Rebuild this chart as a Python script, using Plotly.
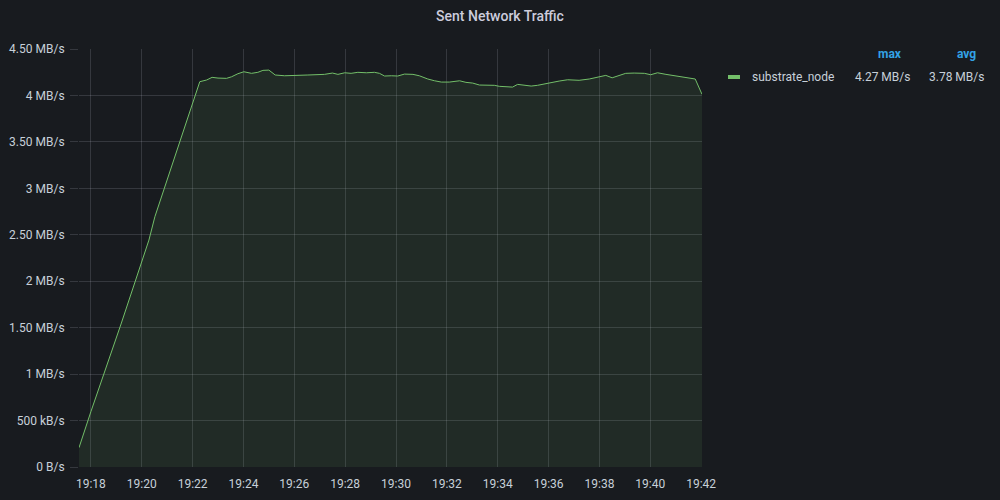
import plotly.graph_objects as go

# ---- data ----
times = [
    "19:17:32", "19:18:00", "19:19:12", "19:20:17", "19:20:31", "19:22:17", "19:22:33", "19:22:46",
    "19:23:00", "19:23:20", "19:23:32", "19:23:47", "19:24:01", "19:24:19", "19:24:34", "19:24:46",
    "19:25:00", "19:25:15", "19:25:37", "19:26:01", "19:26:32", "19:27:11", "19:27:30", "19:27:43",
    "19:27:59", "19:28:14", "19:28:30", "19:28:50", "19:29:09", "19:29:21", "19:29:33", "19:29:49",
    "19:30:04", "19:30:20", "19:30:40", "19:30:55", "19:31:15", "19:31:31", "19:31:47", "19:32:06",
    "19:32:30", "19:32:45", "19:33:01", "19:33:17", "19:33:36", "19:33:52", "19:34:04", "19:34:20",
    "19:34:35", "19:34:47", "19:35:03", "19:35:19", "19:35:34", "19:35:50", "19:36:06", "19:36:25",
    "19:36:45", "19:37:12", "19:37:36", "19:38:00", "19:38:15", "19:38:30", "19:38:47", "19:39:02",
    "19:39:22", "19:39:46", "19:40:01", "19:40:17", "19:40:37", "19:40:52", "19:41:12", "19:41:28",
    "19:41:46", "19:42:02",
]
sent_mbps = [
    0.208, 0.595, 1.550, 2.443, 2.694, 4.148, 4.166, 4.195,
    4.187, 4.184, 4.201, 4.234, 4.255, 4.238, 4.249, 4.270,
    4.273, 4.220, 4.212, 4.212, 4.220, 4.227, 4.241, 4.227,
    4.244, 4.238, 4.249, 4.244, 4.249, 4.238, 4.209, 4.212,
    4.209, 4.230, 4.227, 4.212, 4.177, 4.158, 4.144, 4.144,
    4.158, 4.141, 4.133, 4.112, 4.112, 4.109, 4.098, 4.094,
    4.090, 4.119, 4.109, 4.101, 4.109, 4.123, 4.144, 4.155,
    4.169, 4.163, 4.177, 4.201, 4.216, 4.190, 4.216, 4.238,
    4.241, 4.238, 4.223, 4.244, 4.227, 4.216, 4.198, 4.187,
    4.177, 4.012,
]
series_name = "substrate_node"
legend_headers = ["max", "avg"]
legend_stats = ["4.27 MB/s", "3.78 MB/s"]

y_tickvals = [0, 0.5, 1, 1.5, 2, 2.5, 3, 3.5, 4, 4.5]
y_ticktext = ["0 B/s", "500 kB/s", "1 MB/s", "1.50 MB/s", "2 MB/s", "2.50 MB/s",
              "3 MB/s", "3.50 MB/s", "4 MB/s", "4.50 MB/s"]
x_tickvals = ["19:18", "19:20", "19:22", "19:24", "19:26", "19:28", "19:30",
              "19:32", "19:34", "19:36", "19:38", "19:40", "19:42"]

day = "2023-01-01 "
x = [day + t for t in times]

BG = "#181b1f"
GRID = "rgba(204,204,220,0.17)"
TXT = "#c7d0d9"
GREEN = "#73bf69"
FONT = "Roboto"

PL, PR, PT, PB = 79, 702, 49, 467   # plot area in pixels
PW, PH = PR - PL, PB - PT


def px(xp):
    return (xp - PL) / PW


def py(yp):
    return (PB - yp) / PH


fig = go.Figure()
fig.add_trace(go.Scatter(
    x=x, y=sent_mbps, mode="lines", name=series_name,
    line=dict(color=GREEN, width=1),
    fill="tozeroy", fillcolor="rgba(115,191,105,0.10)",
    showlegend=False,
))

fig.update_layout(
    width=1000, height=500,
    paper_bgcolor=BG, plot_bgcolor=BG,
    margin=dict(l=PL, r=1000 - PR, t=PT, b=500 - PB, autoexpand=False),
    font=dict(family=FONT, size=12, color=TXT),
    title=dict(text="Sent Network Traffic", x=0.5, xanchor="center",
               y=1 - 16 / 500, yanchor="middle",
               font=dict(family=FONT, size=14, color="#ccccdc", weight=500)),
    xaxis=dict(
        type="date", automargin=False,
        range=[x[0], x[-1]],
        tickvals=[day + t for t in x_tickvals],
        ticktext=x_tickvals,
        showgrid=True, gridcolor=GRID, gridwidth=1,
        zeroline=False, showline=False,
        ticks="", ticklabelstandoff=8,
        tickfont=dict(size=12, color=TXT),
        fixedrange=True,
    ),
    yaxis=dict(
        range=[0, 4.5], automargin=False,
        tickvals=y_tickvals, ticktext=y_ticktext,
        showgrid=True, gridcolor=GRID, gridwidth=1,
        zeroline=False, showline=False,
        ticks="outside", ticklen=8, tickcolor=GRID, tickwidth=1,
        ticklabelstandoff=3,
        tickfont=dict(size=12, color=TXT),
        fixedrange=True,
    ),
)

# custom legend (Grafana table style)
fig.add_shape(type="line", xref="paper", yref="paper",
              x0=px(728), x1=px(740), y0=py(77), y1=py(77),
              line=dict(color=GREEN, width=4))
fig.add_annotation(xref="paper", yref="paper", x=px(750), y=py(77),
                   text=series_name, showarrow=False, xanchor="left", yanchor="middle",
                   font=dict(family=FONT, size=12, color=TXT))
hdr_right = [904, 978]
val_right = [912, 986]
for hdr, val, xh, xv in zip(legend_headers, legend_stats, hdr_right, val_right):
    fig.add_annotation(xref="paper", yref="paper", x=px(xh), y=py(54),
                       text="<b>" + hdr + "</b>", showarrow=False, xanchor="right",
                       yanchor="middle", font=dict(family=FONT, size=12, color="#33a2e5"))
    fig.add_annotation(xref="paper", yref="paper", x=px(xv), y=py(77),
                       text=val, showarrow=False, xanchor="right", yanchor="middle",
                       font=dict(family=FONT, size=12, color=TXT))

fig.write_html("out.html")
